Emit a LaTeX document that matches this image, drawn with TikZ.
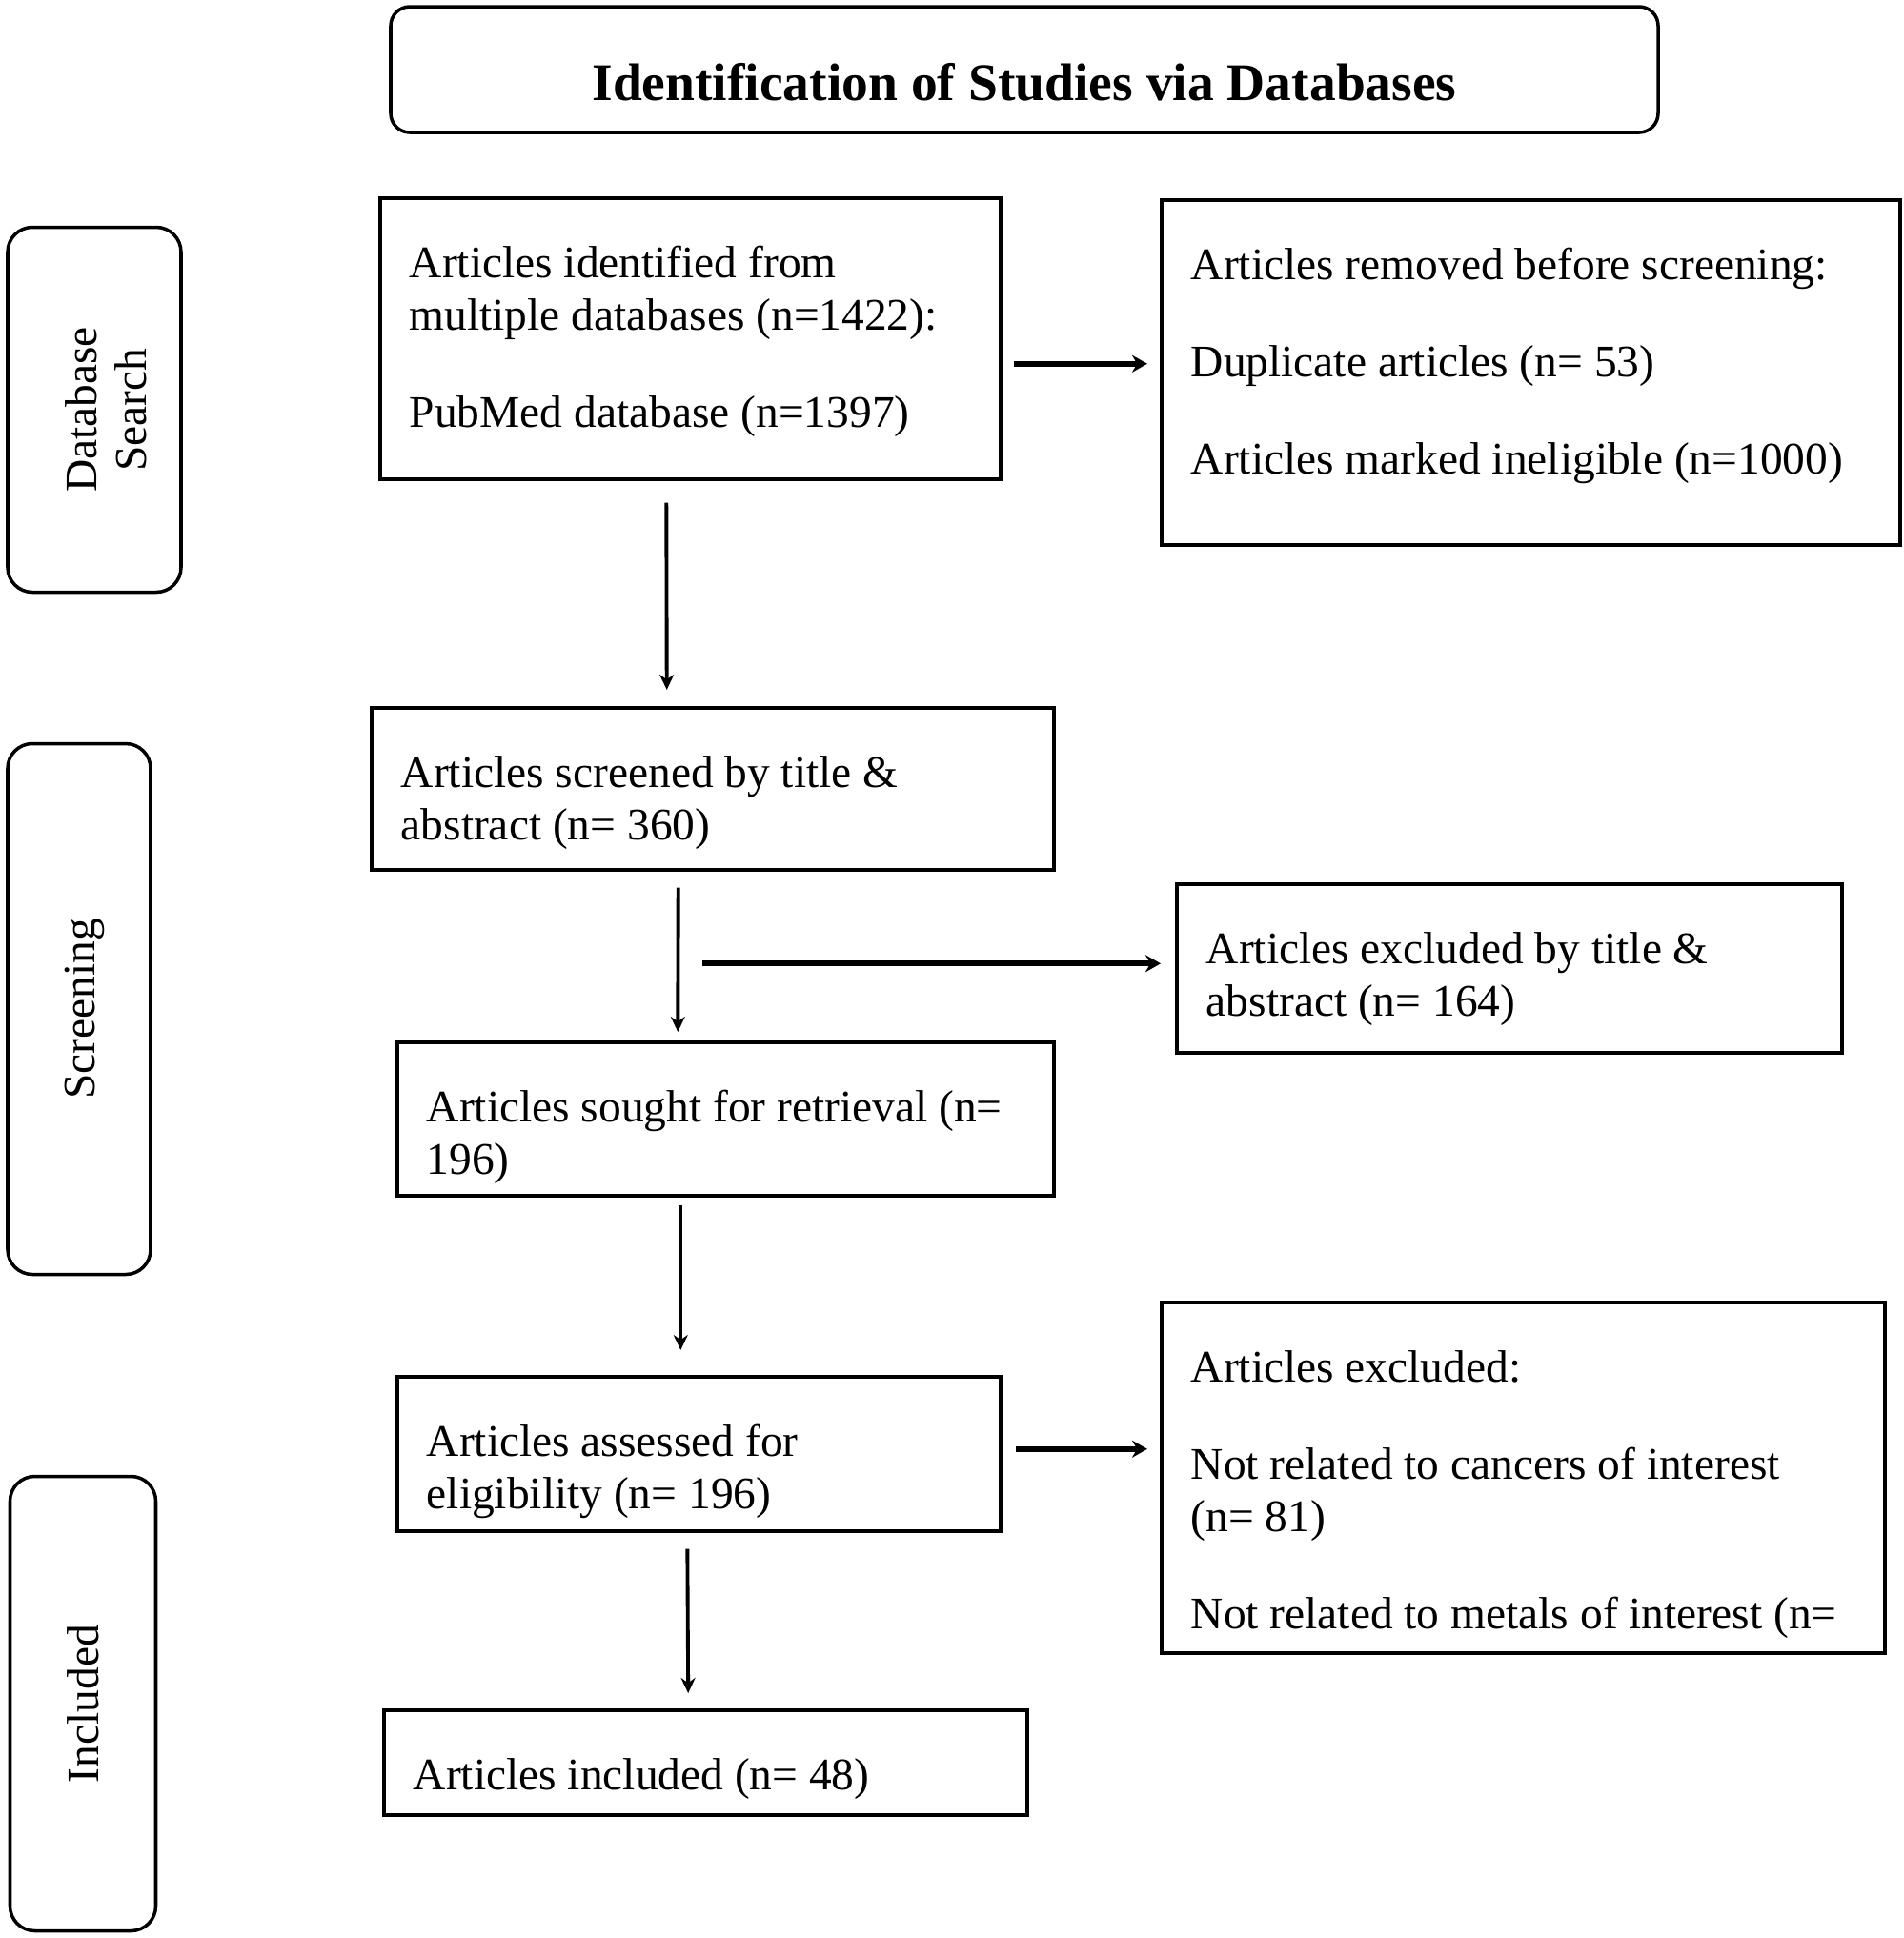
\documentclass[tikz,border=0pt]{standalone}
\usepackage{fontspec}
\setmainfont{Liberation Serif}
\usetikzlibrary{arrows.meta}
% text set from the top of a box of given width and height
\newcommand{\boxtext}[3]{\parbox[c][#2][t]{#1}{\raggedright\rule{0pt}{0.84cm}#3}}
\begin{document}
\begin{tikzpicture}[
    every node/.style={font=\fontsize{13.5}{15.5}\selectfont},
    box/.style={draw, line width=1pt, anchor=north west,
        inner xsep=0.31cm, inner ysep=0pt},
    stage/.style={draw, line width=1pt, rounded corners=0.26cm, rotate=90,
        align=center, inner sep=0pt, font=\fontsize{13.5}{14.7}\selectfont},
    down/.style={-{Stealth[length=1.6mm,width=1.5mm]}, line width=1.1pt},
    across/.style={-{Stealth[length=1.6mm,width=1.8mm]}, line width=1.8pt}]

    \useasboundingbox (0,0) rectangle (19.98,-20.34);

    \node[draw, line width=1pt, rounded corners=0.2cm, minimum width=13.3cm,
        minimum height=1.32cm, text height=0.64cm, text depth=0pt,
        font=\fontsize{15.8}{18}\selectfont\bfseries]
        (title) at (10.75,-0.73) {Identification of Studies via Databases};

    % stages on the left
    \node[stage, minimum width=3.83cm, minimum height=1.82cm] (search) at (0.99,-4.3)
        {\rule{0pt}{0.57cm}Database\\Search};
    \node[stage, minimum width=5.57cm, minimum height=1.5cm, text height=0.43cm]
        (screen) at (0.83,-10.59) {Screening};
    \node[stage, minimum width=4.77cm, minimum height=1.53cm] (incl) at (0.87,-17.88)
        {Included};

    % main column
    \node[box] (ident) at (3.97,-2.06)
        {\boxtext{5.89cm}{2.95cm}{Articles identified from\\ multiple databases (n=1422):\\[13.5pt]
         PubMed database (n=1397)}};
    \node[box] (screened) at (3.88,-7.41)
        {\boxtext{6.54cm}{1.7cm}{Articles screened by title \&\\ abstract (n= 360)}};
    \node[box] (sought) at (4.15,-10.92)
        {\boxtext{6.27cm}{1.61cm}{Articles sought for retrieval (n=\\ 196)}};
    \node[box] (assessed) at (4.15,-14.43)
        {\boxtext{5.71cm}{1.62cm}{Articles assessed for\\ eligibility (n= 196)}};
    \node[box] (included) at (4.01,-17.93)
        {\boxtext{6.13cm}{1.1cm}{Articles included (n= 48)}};

    % right column
    \node[box] (removed) at (12.17,-2.08)
        {\boxtext{7.13cm}{3.62cm}{Articles removed before screening:\\[13.5pt]
         Duplicate articles (n= 53)\\[13.5pt]
         Articles marked ineligible (n=1000)}};
    \node[box] (exclTA) at (12.33,-9.26)
        {\boxtext{6.36cm}{1.77cm}{Articles excluded by title \&\\ abstract (n= 164)}};
    \node[box] (excluded) at (12.17,-13.65)
        {\boxtext{6.97cm}{3.68cm}{Articles excluded:\\[13.5pt]
         Not related to cancers of interest\\ (n= 81)\\[13.5pt]
         \mbox{Not related to metals of interest (n=}}};

    % arrows
    \draw[down, shorten <=0.23cm, shorten >=0.17cm]
        ([xshift=-0.25cm]ident.south) -- ([xshift=-0.48cm]screened.north);
    \draw[down, shorten <=0.17cm, shorten >=0.09cm]
        ([xshift=-0.36cm]screened.south) -- ([xshift=-0.5cm]sought.north);
    \draw[down, shorten <=0.08cm, shorten >=0.26cm]
        ([xshift=-0.47cm]sought.south) -- ([xshift=-0.19cm]assessed.north);
    \draw[down, shorten <=0.17cm, shorten >=0.16cm]
        ([xshift=-0.12cm]assessed.south) -- ([xshift=-0.18cm]included.north);

    \coordinate (split) at ([xshift=-0.24cm,yshift=0.05cm]sought.north |- exclTA.west);
    \draw[across, shorten <=0.12cm, shorten >=0.13cm]
        ([yshift=0.09cm]ident.east |- removed.west) -- ([yshift=0.09cm]removed.west);
    \draw[across, shorten >=0.15cm]
        (split) -- ([yshift=0.05cm]exclTA.west);
    \draw[across, shorten <=0.14cm, shorten >=0.13cm]
        ([yshift=0.05cm]assessed.east) -- ([yshift=0.05cm]assessed.east -| excluded.west);
\end{tikzpicture}
\end{document}
